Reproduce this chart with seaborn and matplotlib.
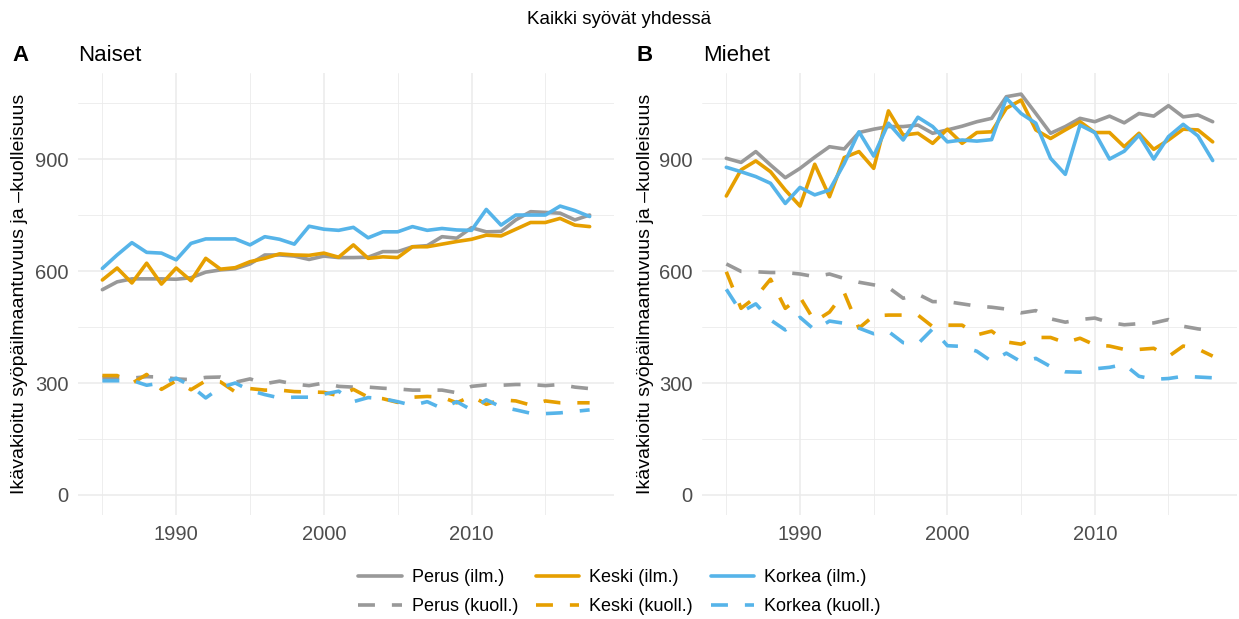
import pandas as pd
import matplotlib.pyplot as plt
from matplotlib.lines import Line2D
import seaborn as sns

# ---------------------------------------------------
# data
# ---------------------------------------------------
years = list(range(1985, 2019))

# Naiset
perus_ilm_n = [550, 571, 579, 579, 579, 578, 582, 597, 603, 606, 619, 643, 643, 640, 631, 640, 636,
               636, 637, 652, 652, 665, 668, 692, 688, 716, 705, 706, 737, 759, 757, 755, 737, 750]
keski_ilm_n = [576, 608, 568, 621, 565, 608, 574, 634, 605, 609, 625, 634, 646, 643, 642, 648, 637,
               670, 634, 638, 636, 665, 665, 672, 679, 685, 696, 694, 712, 730, 730, 741, 723, 719]
korkea_ilm_n = [607, 643, 676, 650, 648, 630, 674, 686, 686, 686, 670, 692, 685, 672, 720, 712, 709,
                717, 689, 705, 705, 719, 709, 714, 710, 709, 765, 723, 750, 750, 750, 774, 762, 746]
perus_kuoll_n = [315, 314, 313, 317, 316, 311, 309, 315, 316, 302, 311, 298, 305, 297, 293, 300, 291,
                 289, 289, 286, 284, 281, 281, 281, 274, 291, 295, 294, 296, 296, 293, 296, 289, 285]
keski_kuoll_n = [320, 320, 299, 323, 283, 306, 282, 306, 303, 276, 285, 281, 281, 277, 276, 275, 266,
                 283, 262, 258, 248, 262, 264, 262, 247, 265, 243, 255, 252, 241, 252, 247, 247, 247]
korkea_kuoll_n = [306, 306, 307, 294, 300, 313, 292, 260, 288, 300, 280, 269, 260, 262, 262, 270, 278,
                  250, 261, 258, 250, 240, 250, 232, 250, 228, 255, 236, 228, 219, 218, 220, 224, 228]

# Miehet
perus_ilm_m = [902, 891, 920, 884, 850, 875, 905, 933, 927, 971, 980, 987, 987, 991, 969, 978, 988,
               1000, 1009, 1067, 1074, 1022, 969, 987, 1009, 1000, 1015, 997, 1022, 1015, 1043, 1013, 1018, 1000]
keski_ilm_m = [801, 871, 895, 866, 817, 774, 886, 799, 904, 920, 875, 1029, 964, 969, 942, 980, 942,
               971, 973, 1036, 1058, 978, 955, 978, 1000, 971, 971, 933, 969, 926, 951, 980, 978, 946]
korkea_ilm_m = [878, 866, 853, 835, 781, 824, 804, 817, 888, 973, 908, 996, 951, 1012, 987, 946, 951,
                948, 952, 1063, 1022, 996, 902, 859, 991, 971, 900, 921, 964, 900, 960, 993, 962, 896]
perus_kuoll_m = [619, 599, 598, 596, 596, 592, 585, 592, 580, 570, 563, 556, 527, 538, 518, 518, 512,
                 506, 503, 498, 488, 494, 472, 463, 470, 474, 462, 456, 459, 461, 470, 452, 445, 440]
keski_kuoll_m = [598, 500, 530, 578, 500, 530, 465, 490, 542, 447, 480, 482, 482, 482, 451, 455, 455,
                 429, 439, 410, 404, 422, 422, 408, 420, 402, 399, 390, 390, 393, 371, 399, 391, 372]
korkea_kuoll_m = [551, 490, 512, 469, 442, 476, 442, 466, 460, 447, 432, 438, 408, 405, 445, 400, 398,
                  385, 358, 380, 357, 366, 344, 330, 329, 338, 342, 350, 318, 310, 312, 318, 316, 314]

series_order = ["Perus (ilm.)", "Perus (kuoll.)", "Keski (ilm.)", "Keski (kuoll.)",
                "Korkea (ilm.)", "Korkea (kuoll.)"]

data = {
    "Naiset": [perus_ilm_n, perus_kuoll_n, keski_ilm_n, keski_kuoll_n, korkea_ilm_n, korkea_kuoll_n],
    "Miehet": [perus_ilm_m, perus_kuoll_m, keski_ilm_m, keski_kuoll_m, korkea_ilm_m, korkea_kuoll_m],
}

frames = []
for sex, lists in data.items():
    for name, vals in zip(series_order, lists):
        frames.append(pd.DataFrame({"vuosi": years, "arvo": vals, "sarja": name,
                                    "mittari": "kuoll." if "kuoll" in name else "ilm.",
                                    "sukupuoli": sex}))
df = pd.concat(frames, ignore_index=True)

# ---------------------------------------------------
# style
# ---------------------------------------------------
sns.set_theme(style="white")
plt.rcParams['font.family'] = ['Liberation Sans', 'DejaVu Sans']
plt.rcParams['text.color'] = 'black'

palette = {"Perus (ilm.)": "#999999", "Perus (kuoll.)": "#999999",
           "Keski (ilm.)": "#E69F00", "Keski (kuoll.)": "#E69F00",
           "Korkea (ilm.)": "#56B4E9", "Korkea (kuoll.)": "#56B4E9"}
LW = 2.6
DASH = (12.2 / LW, 12.2 / LW)
dashes = {"ilm.": "", "kuoll.": DASH}

W, H = 1239, 619
fig = plt.figure(figsize=(W / 100, H / 100), dpi=100)


def px_axes(x0, x1, y0, y1):
    return fig.add_axes([x0 / W, 1 - y1 / H, (x1 - x0) / W, (y1 - y0) / H])


axL = px_axes(78, 614, 73, 515)
axR = px_axes(702, 1237, 73, 515)

for ax, sex in [(axL, "Naiset"), (axR, "Miehet")]:
    sub = df[df["sukupuoli"] == sex]
    sns.lineplot(data=sub, x="vuosi", y="arvo", hue="sarja", hue_order=series_order,
                 style="mittari", dashes=dashes, palette=palette, linewidth=LW,
                 legend=False, ax=ax)
    ax.set_xlim(1985 - 1.65, 2018 + 1.65)
    ax.set_ylim(-53.6, 1130.5)
    ax.set_xticks([1990, 2000, 2010])
    ax.set_xticks([1985, 1995, 2005, 2015], minor=True)
    ax.set_yticks([0, 300, 600, 900])
    ax.set_yticks([150, 450, 750, 1050], minor=True)
    ax.grid(which="major", color="#EBEBEB", linewidth=1.1)
    ax.grid(which="minor", color="#EBEBEB", linewidth=0.6)
    ax.set_axisbelow(True)
    for s in ax.spines.values():
        s.set_visible(False)
    ax.tick_params(which="both", length=0, pad=7, labelsize=14.5, labelcolor="#4D4D4D")
    ax.set_xlabel("")
    ax.set_ylabel("")

ylab = "Ikävakioitu syöpäilmaantuvuus ja \u2013kuolleisuus"
fig.text(19.5 / W, 1 - 294 / H, ylab, rotation=90, ha="center", va="center", fontsize=14)
fig.text(645 / W, 1 - 294 / H, ylab, rotation=90, ha="center", va="center", fontsize=14)

fig.text(0.5, 1 - 20 / H, "Kaikki syövät yhdessä", ha="center", va="center", fontsize=13.5)
fig.text(12 / W, 1 - 61 / H, "A", ha="left", va="baseline", fontsize=16, fontweight="bold")
fig.text(78 / W, 1 - 61 / H, "Naiset", ha="left", va="baseline", fontsize=16)
fig.text(637 / W, 1 - 61 / H, "B", ha="left", va="baseline", fontsize=16, fontweight="bold")
fig.text(703 / W, 1 - 61 / H, "Miehet", ha="left", va="baseline", fontsize=16)

handles = [Line2D([], [], color=palette[n], linewidth=LW,
                  linestyle=(0, DASH) if "kuoll" in n else "-") for n in series_order]
fig.legend(handles, series_order, ncol=3, loc="center", bbox_to_anchor=(0.5, 1 - 592 / H),
           frameon=False, fontsize=13, handlelength=2.4, handletextpad=0.55,
           columnspacing=1.0, labelspacing=0.65, labelcolor="black")

fig.savefig("out.png", dpi=100)
plt.close(fig)
